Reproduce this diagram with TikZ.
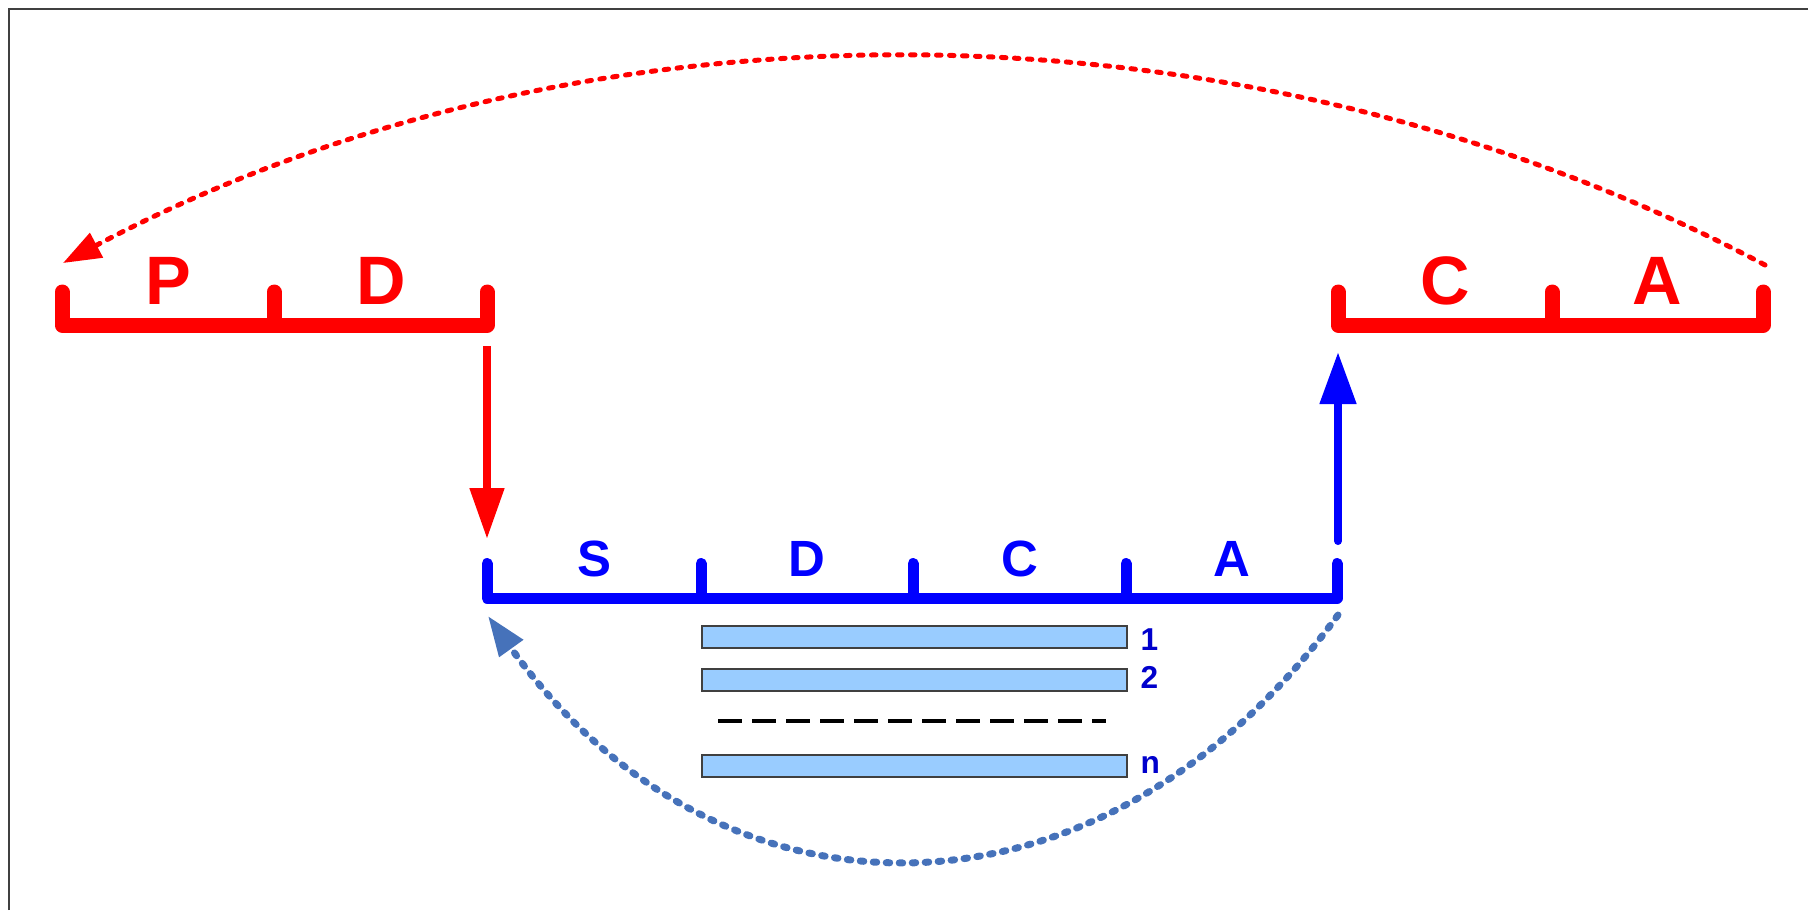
\documentclass[tikz,border=0pt]{standalone}
\usepackage{fontspec}
\setmainfont{Liberation Sans}
\usetikzlibrary{arrows.meta,positioning}
\definecolor{pdred}{RGB}{255,0,0}
\definecolor{pdblue}{RGB}{0,0,255}
\definecolor{numblue}{RGB}{0,0,204}
\definecolor{loopblue}{RGB}{70,114,186}
\definecolor{barfill}{RGB}{153,204,255}
\definecolor{framegray}{RGB}{64,64,64}

\begin{document}
\begin{tikzpicture}
  [x=0.1mm,y=-0.1mm,
   rbr/.style={draw=pdred,line width=1.5mm,line cap=round,line join=round},
   bbr/.style={draw=pdblue,line width=1.1mm,line cap=round,line join=round},
   rl/.style={text=pdred,font=\bfseries\fontsize{19.5}{20}\selectfont,
      anchor=base,inner sep=0pt},
   bl/.style={text=pdblue,font=\bfseries\fontsize{14.5}{15}\selectfont,
      anchor=base,inner sep=0pt},
   bar/.style={draw=framegray,line width=0.15mm,fill=barfill,
      minimum width=42.5mm,minimum height=2.2mm,inner sep=0pt,anchor=north west},
   num/.style={text=numblue,font=\bfseries\fontsize{9}{10}\selectfont,
      anchor=base west,inner sep=0pt}]
  \useasboundingbox (0,0) rectangle (1808,910);
  \draw[framegray,line width=0.2mm] (9,910) -- (9,9) -- (1808,9);

  % red brackets
  \coordinate (L0) at (62,325);   \coordinate (L1) at (274,325);
  \coordinate (L2) at (487,325);
  \coordinate (R0) at (1338,325); \coordinate (R1) at (1552,325);
  \coordinate (R2) at (1763,325);
  \draw[rbr] (L0) ++(0,-33) -- (L0) -- (L2) -- ++(0,-33);
  \draw[rbr] (L1) -- ++(0,-33);
  \draw[rbr] (R0) ++(0,-33) -- (R0) -- (R2) -- ++(0,-33);
  \draw[rbr] (R1) -- ++(0,-33);
  \node[rl] (P)  at (168,304)  {P};
  \node[rl] (D1) at (381,304)  {D};
  \node[rl] (C1) at (1445,304) {C};
  \node[rl] (A1) at (1657,304) {A};

  % blue bracket
  \coordinate (B0) at (487,598);  \coordinate (B4) at (1337,598);
  \draw[bbr] (B0) ++(0,-34.5) -- (B0) -- (B4) -- ++(0,-34.5);
  \foreach \x in {701,913,1126}
    \draw[bbr] (\x,598) -- ++(0,-34.5);
  \node[bl] (S)  at (594,576)  {S};
  \node[bl] (D2) at (807,576)  {D};
  \node[bl] (C2) at (1020,576) {C};
  \node[bl] (A2) at (1232,576) {A};

  % bars
  \node[bar] (bar1) at (701,625) {};
  \node[bar] (bar2) at (701,668) {};
  \node[bar] (barn) at (701,754) {};
  \node[num] (n1) at (1140,650) {1};
  \node[num] (n2) at (1140,688) {2};
  \node[num] (nn) at (1140,773) {n};
  \coordinate (dl) at (718,721); \coordinate (dr) at (1106,721);
  \draw[black,line width=0.45mm,dash pattern=on 2.4mm off 1mm] (dl) -- (dr);

  % arrows
  \coordinate (ra1) at (487,346); \coordinate (ra2) at (487,539);
  \draw[pdred,line width=0.8mm,-{Triangle[length=5.1mm,width=3.3mm]}]
    (ra1) -- (ra2);
  \coordinate (ba1) at (1338,541); \coordinate (ba2) at (1338,352);
  \draw[pdblue,line width=0.8mm,line cap=round,
    -{Triangle[length=5.2mm,width=3.5mm]}] (ba1) -- (ba2);

  % loops
  \coordinate (rc1) at (1765,265); \coordinate (rc2) at (63,263);
  \draw[pdred,line width=0.5mm,line cap=round,dash pattern=on 0.45mm off 0.85mm,
    -{Triangle[length=3.8mm,width=2.7mm]}]
    (rc1) .. controls (1245,-11) and (583,-13) .. (rc2);
  \coordinate (bc1) at (1338,615); \coordinate (bc2) at (488,616);
  \draw[loopblue,line width=0.7mm,line cap=round,dash pattern=on 0.35mm off 0.95mm,
    -{Triangle[length=4mm,width=2.8mm]}]
    (bc1) .. controls (1100,940) and (720,940) .. (bc2);
\end{tikzpicture}
\end{document}
